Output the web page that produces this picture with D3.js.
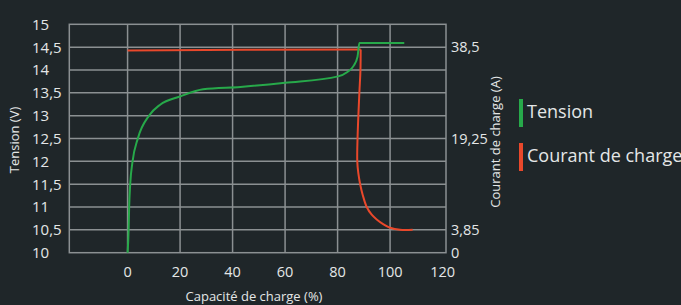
<!DOCTYPE html>
<html>
<head>
<meta charset="utf-8">
<script src="https://cdn.jsdelivr.net/npm/d3@7"></script>
<style>
    body { margin: 0; background: #1f2629; }
    svg { display: block; font-family: "Open Sans", sans-serif; }
</style>
</head>
<body>
<div id="chart"></div>
<script>
// Tension curve (green): charge capacity (%) -> volts
const capTension = [0, 0.4, 0.6, 1.0, 1.9, 3.9, 8.3, 12.4, 20, 28.8, 43, 60, 80.2, 83.6, 86.1, 87.6, 88.3, 105.4];
const tension    = [10, 10.5, 11, 11.5, 12, 12.5, 13.01, 13.24, 13.42, 13.58, 13.63, 13.72, 13.86, 13.95, 14.09, 14.29, 14.59, 14.59];

// Charging current (red): charge capacity (%) -> amps
const capCourant = [0, 45, 88.8, 88.7, 88.3, 87.6, 87.5, 87.9, 88.6, 89.6, 91.1, 93.0, 94.9, 97.5, 100, 103.8, 108.6];
const courant    = [37.8, 37.95, 38.0, 33.5, 28.9, 19.25, 15.4, 13.4, 11.55, 9.7, 7.7, 6.4, 5.6, 4.77, 4.2, 3.85, 3.85];
const courantCorner = 2; // index where the flat part ends and the drop starts

// Axis ticks
const xTicks = [0, 20, 40, 60, 80, 100, 120];
const yTicks = [10, 10.5, 11, 11.5, 12, 12.5, 13, 13.5, 14, 14.5, 15];
const yTickLabels = ['10', '10,5', '11', '11,5', '12', '12,5', '13', '13,5', '14', '14,5', '15'];
const courantTicks = [0, 3.85, 19.25, 38.5];
const courantTickLabels = ['0', '3,85', '19,25', '38,5'];
// the voltage gridline each current tick sits on
const courantOnTension = [10, 10.5, 12.5, 14.5];

const legendNames = ['Tension', 'Courant de charge'];

const width = 681, height = 305;
const margin = {top: 24.3, right: 235, bottom: 52.3, left: 69.3};

const colGreen = '#27a94a';
const colRed = '#e9482b';
const colGrid = '#8b9092';
const colText = '#e4e6e7';

const svg = d3.select('#chart')
    .append('svg')
    .attr('width', width)
    .attr('height', height);

svg.append('rect')
    .attr('width', width)
    .attr('height', height)
    .attr('fill', '#1f2629');

const x = d3.scaleLinear()
    .domain([-22.2, 121.3])
    .range([margin.left, width - margin.right]);

const y = d3.scaleLinear()
    .domain([10, 15])
    .range([height - margin.bottom, margin.top]);

// current axis follows the voltage gridlines
const ampToVolt = d3.scaleLinear().domain(courantTicks).range(courantOnTension);
const yA = a => y(ampToVolt(a));

// grid
const grid = svg.append('g');
grid.selectAll('line.h')
    .data(yTicks.slice(1, -1))
    .enter().append('line')
    .attr('class', 'h')
    .attr('x1', x.range()[0]).attr('x2', x.range()[1])
    .attr('y1', d => y(d)).attr('y2', d => y(d))
    .attr('stroke', colGrid)
    .attr('stroke-width', 1.5);

grid.selectAll('line.v')
    .data(xTicks.filter(d => d < 120))
    .enter().append('line')
    .attr('class', 'v')
    .attr('x1', d => x(d)).attr('x2', d => x(d))
    .attr('y1', y.range()[0]).attr('y2', y.range()[1])
    .attr('stroke', colGrid)
    .attr('stroke-width', 1.5);

grid.append('rect')
    .attr('x', x.range()[0])
    .attr('y', y.range()[1])
    .attr('width', x.range()[1] - x.range()[0])
    .attr('height', y.range()[0] - y.range()[1])
    .attr('fill', 'none')
    .attr('stroke', colGrid)
    .attr('stroke-width', 1.5);

// left axis labels
svg.append('g').selectAll('text')
    .data(yTicks)
    .enter().append('text')
    .attr('x', 32)
    .attr('y', d => y(d))
    .attr('dy', '0.36em')
    .attr('fill', colText)
    .style('font-size', '15px')
    .text((d, i) => yTickLabels[i]);

// right axis labels
svg.append('g').selectAll('text')
    .data(courantTicks)
    .enter().append('text')
    .attr('x', x.range()[1] + 5)
    .attr('y', d => yA(d))
    .attr('dy', '0.36em')
    .attr('fill', colText)
    .style('font-size', '14.5px')
    .text((d, i) => courantTickLabels[i]);

// bottom axis labels
svg.append('g').selectAll('text')
    .data(xTicks)
    .enter().append('text')
    .attr('x', d => x(d))
    .attr('y', 277)
    .attr('text-anchor', 'middle')
    .attr('fill', colText)
    .style('font-size', '14.5px')
    .text(d => d);

// axis titles
svg.append('text')
    .attr('x', 254)
    .attr('y', 301)
    .attr('text-anchor', 'middle')
    .attr('fill', colText)
    .style('font-size', '13px')
    .text('Capacité de charge (%)');

svg.append('text')
    .attr('transform', 'translate(19,140) rotate(-90)')
    .attr('text-anchor', 'middle')
    .attr('fill', colText)
    .style('font-size', '13px')
    .text('Tension (V)');

svg.append('text')
    .attr('transform', 'translate(500,142) rotate(-90)')
    .attr('text-anchor', 'middle')
    .attr('fill', colText)
    .style('font-size', '13px')
    .text('Courant de charge (A)');

// curves
const lineTension = d3.line()
    .x((d, i) => x(capTension[i]))
    .y(d => y(d))
    .curve(d3.curveMonotoneX);

// flat part straight, the drop smoothed
const courantPts = courant.map((d, i) => [x(capCourant[i]), yA(d)]);
const lineFlat = d3.line().curve(d3.curveLinear);
const lineDrop = d3.line().curve(d3.curveCatmullRom.alpha(0.5));

const redG = svg.append('g')
    .attr('fill', 'none')
    .attr('stroke', colRed)
    .attr('stroke-width', 2)
    .attr('stroke-linejoin', 'round');
redG.append('path').attr('d', lineFlat(courantPts.slice(0, courantCorner + 1)));
redG.append('path').attr('d', lineDrop(courantPts.slice(courantCorner)));

svg.append('path')
    .datum(tension)
    .attr('d', lineTension)
    .attr('fill', 'none')
    .attr('stroke', colGreen)
    .attr('stroke-width', 2);

// legend
const legend = svg.append('g').attr('transform', 'translate(519,99)');
const item = legend.selectAll('g')
    .data(legendNames)
    .enter().append('g')
    .attr('transform', (d, i) => `translate(0,${i * 44})`);
item.append('rect')
    .attr('width', 4)
    .attr('height', 28)
    .attr('fill', (d, i) => i === 0 ? colGreen : colRed);
item.append('text')
    .attr('x', 8)
    .attr('y', 19)
    .attr('fill', colText)
    .style('font-size', '18px')
    .text(d => d);
</script>
</body>
</html>
